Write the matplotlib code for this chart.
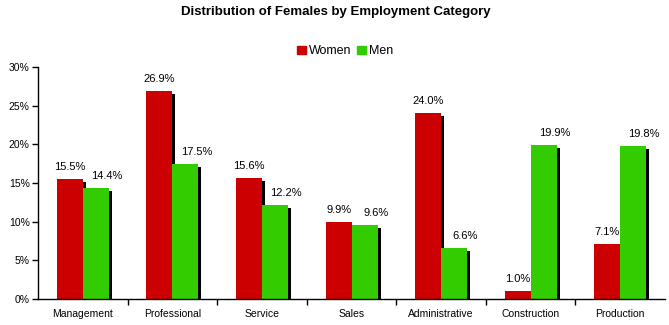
import numpy as np
import matplotlib.pyplot as plt
import matplotlib.transforms as mtransforms
from matplotlib.patches import Patch

categories = ["Management", "Professional", "Service", "Sales",
              "Administrative", "Construction", "Production"]
women = [15.5, 26.9, 15.6, 9.9, 24.0, 1.0, 7.1]
men = [14.4, 17.5, 12.2, 9.6, 6.6, 19.9, 19.8]

RED = "#cc0000"
GREEN = "#33cc00"

plt.rcParams['font.family'] = ['Liberation Sans', 'DejaVu Sans']

fig = plt.figure(figsize=(6.69, 3.25), dpi=100)
ax = fig.add_axes([0.057, 0.08, 0.937, 0.714])

x = np.arange(len(categories))
w = 0.29

# drop shadow behind each bar: shifted right and down a few pixels
shadow = mtransforms.offset_copy(ax.transData, fig=fig, x=3, y=-3, units='dots')

for vals, offs, color in [(women, -w / 2, RED), (men, w / 2, GREEN)]:
    ax.bar(x + offs, vals, width=w, color='black', transform=shadow, zorder=1)
    ax.bar(x + offs, vals, width=w, color=color, zorder=2)

for i in range(len(categories)):
    ax.annotate(f"{women[i]:.1f}%", (x[i] - w / 2, women[i]), xytext=(0, 5),
                textcoords='offset points', ha='center', va='bottom', fontsize=8)
    ax.annotate(f"{men[i]:.1f}%", (x[i] + w / 2, men[i]), xytext=(8, 5),
                textcoords='offset points', ha='center', va='bottom', fontsize=8)

ax.set_xlim(-0.5, len(categories) - 0.5)
ax.set_ylim(0, 30)
ax.set_yticks(np.arange(0, 31, 5))
ax.set_yticklabels([f"{v}%" for v in range(0, 31, 5)], fontsize=7.5)
ax.tick_params(axis='y', length=4, width=1, direction='out', pad=2)

ax.set_xticks(np.arange(0.5, len(categories) - 0.5, 1))
ax.set_xticks(x, minor=True)
ax.set_xticklabels([])
ax.set_xticklabels(categories, minor=True, fontsize=7.5)
ax.tick_params(axis='x', which='major', length=4, width=1, direction='out')
ax.tick_params(axis='x', which='minor', length=0, pad=7)

for s in ['top', 'right']:
    ax.spines[s].set_visible(False)
for s in ['left', 'bottom']:
    ax.spines[s].set_linewidth(1)

fig.text(0.502, 0.962, "Distribution of Females by Employment Category",
         ha='center', va='center', fontsize=9.5, fontweight='bold')

handles = [Patch(color=RED, label="Women"), Patch(color=GREEN, label="Men")]
fig.legend(handles=handles, loc='center', bbox_to_anchor=(0.516, 0.842), ncol=2,
           frameon=False, fontsize=9, handlelength=0.7, handleheight=0.7,
           handletextpad=0.25, columnspacing=0.5)

fig.savefig("out.png", dpi=100)
